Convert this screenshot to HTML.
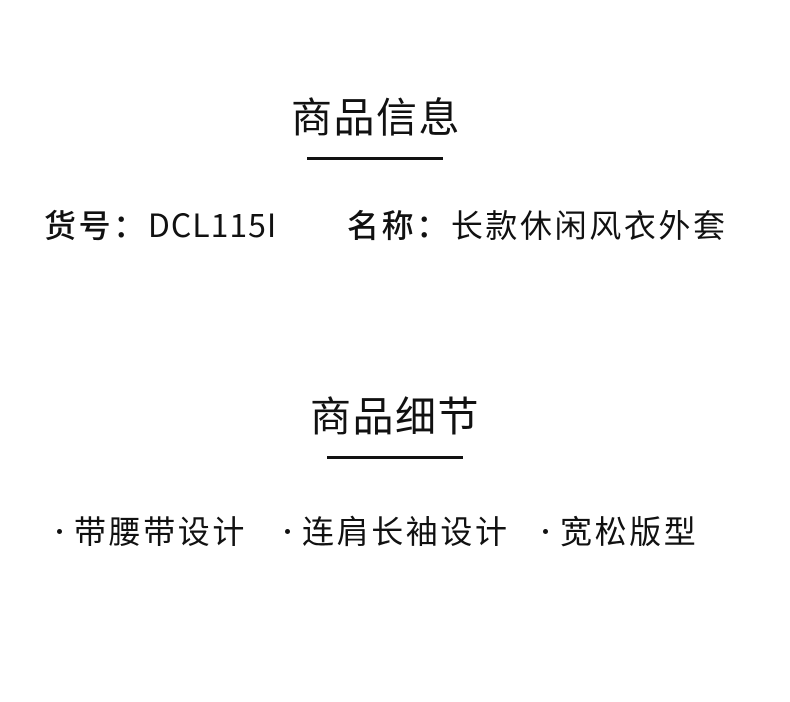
<!DOCTYPE html>
<html><head><meta charset="utf-8"><style>
html,body{margin:0;padding:0;background:#fff;}
body{width:790px;height:702px;position:relative;overflow:hidden;font-family:"Noto Sans CJK SC","Liberation Sans",sans-serif;color:#111;}
.t{position:absolute;white-space:nowrap;line-height:1;}
.h{font-size:41px;font-weight:400;letter-spacing:1.5px;}
.r{font-size:32px;letter-spacing:2.6px;}
.b{font-weight:500;}
.line{position:absolute;height:3px;background:#111;}
.dot{position:absolute;width:5px;height:5px;border-radius:50%;background:#111;}
</style></head><body>
<div class="t h" style="left:291px;top:94px;">商品信息</div>
<div class="line" style="left:307px;top:157px;width:136px;"></div>
<div class="t r" style="left:44px;top:208px;"><span class="b">货号：</span><span style="letter-spacing:1px">DCL115I</span></div>
<div class="t r" style="left:347px;top:208px;"><span class="b">名称：</span>长款休闲风衣外套</div>
<div class="t h" style="left:310px;top:393px;">商品细节</div>
<div class="line" style="left:327px;top:456px;width:136px;"></div>
<div class="dot" style="left:57px;top:529px;"></div>
<div class="t r" style="left:74px;top:514px;">带腰带设计</div>
<div class="dot" style="left:285px;top:529px;"></div>
<div class="t r" style="left:302px;top:514px;">连肩长袖设计</div>
<div class="dot" style="left:543px;top:529px;"></div>
<div class="t r" style="left:560px;top:514px;">宽松版型</div>
</body></html>
